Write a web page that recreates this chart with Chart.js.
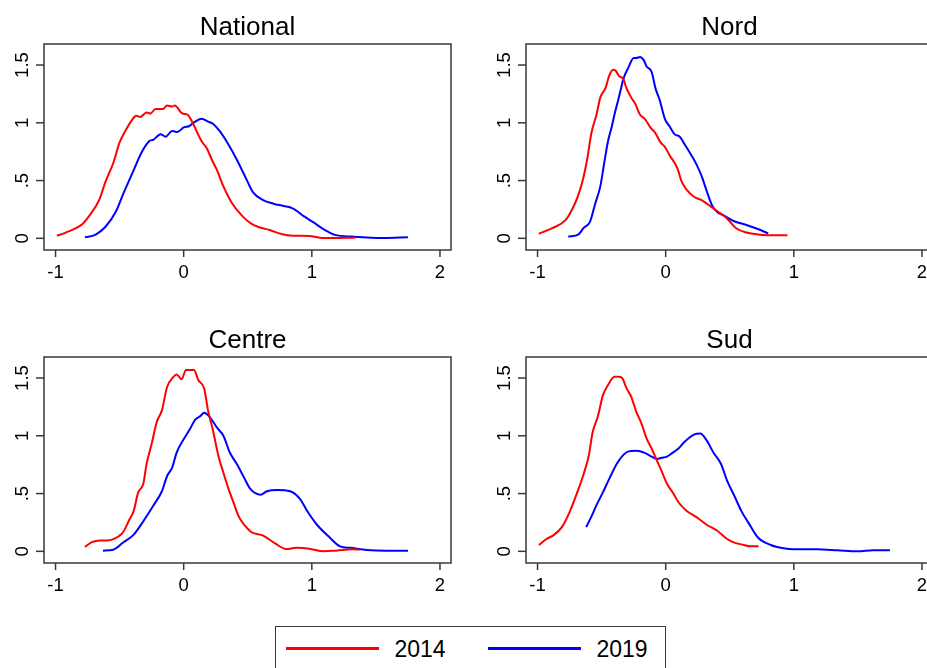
<!DOCTYPE html>
<html>
<head>
<meta charset="utf-8">
<title>Densités 2014 / 2019</title>
<script src="https://cdn.jsdelivr.net/npm/chart.js@4.4.1/dist/chart.umd.min.js"></script>
<style>
  html, body { margin: 0; padding: 0; background: #fff; overflow: hidden; width: 927px; height: 668px; }
  .panel { position: absolute; width: 482px; height: 313px; }
  .panel canvas { display: block; }
  #legend { position: absolute; left: 275px; top: 626px; width: 391px; height: 60px;
            border: 1.5px solid #383838; box-sizing: border-box; background: #fff; }
  #legend .key { position: absolute; top: 20.25px; width: 93px; height: 2.5px; }
  #legend .lab { position: absolute; top: 11.3px; font: 23px/23px "Liberation Sans", Arial, sans-serif;
                 color: #000; white-space: nowrap; }
</style>
</head>
<body>
<div class="panel" style="left:0;top:0"><canvas id="c0" width="482" height="313"></canvas></div>
<div class="panel" style="left:482px;top:0"><canvas id="c1" width="482" height="313"></canvas></div>
<div class="panel" style="left:0;top:313px"><canvas id="c2" width="482" height="313"></canvas></div>
<div class="panel" style="left:482px;top:313px"><canvas id="c3" width="482" height="313"></canvas></div>
<div id="legend"></div>
<script>
// Kernel density estimates, read as (x, density) pairs
const NATIONAL_2014_X = [-0.99,-0.92,-0.79,-0.74,-0.66,-0.61,-0.55,-0.50,-0.45,-0.40,-0.37,-0.34,-0.29,-0.26,-0.22,-0.16,-0.13,-0.09,-0.07,-0.01,0.03,0.065,0.10,0.14,0.18,0.22,0.26,0.31,0.38,0.46,0.53,0.59,0.67,0.77,0.85,0.98,1.06,1.17,1.34];
const NATIONAL_2014_Y = [0.023,0.05,0.125,0.19,0.33,0.49,0.65,0.83,0.94,1.03,1.06,1.05,1.09,1.08,1.12,1.12,1.15,1.14,1.15,1.08,1.07,1.01,0.93,0.84,0.78,0.68,0.59,0.45,0.30,0.19,0.125,0.096,0.072,0.035,0.023,0.02,0.006,0.003,0.006];
const NATIONAL_2019_X = [-0.77,-0.69,-0.61,-0.53,-0.47,-0.39,-0.33,-0.27,-0.235,-0.18,-0.14,-0.09,-0.05,0.0,0.04,0.09,0.14,0.19,0.23,0.28,0.34,0.42,0.49,0.54,0.62,0.70,0.78,0.85,0.94,1.01,1.09,1.18,1.32,1.56,1.75];
const NATIONAL_2019_Y = [0.009,0.03,0.10,0.23,0.39,0.59,0.74,0.84,0.855,0.90,0.88,0.93,0.92,0.96,0.97,1.01,1.035,1.01,0.99,0.93,0.83,0.67,0.51,0.40,0.33,0.30,0.28,0.26,0.19,0.14,0.08,0.03,0.015,0.003,0.009];

const NORD_2014_X = [-0.99,-0.88,-0.78,-0.73,-0.69,-0.65,-0.61,-0.58,-0.54,-0.51,-0.47,-0.44,-0.41,-0.39,-0.36,-0.33,-0.31,-0.27,-0.24,-0.20,-0.16,-0.12,-0.08,-0.04,-0.005,0.03,0.09,0.125,0.165,0.22,0.29,0.37,0.48,0.55,0.63,0.74,0.84,0.95];
const NORD_2014_Y = [0.04,0.09,0.16,0.25,0.35,0.49,0.70,0.91,1.07,1.22,1.30,1.41,1.46,1.45,1.40,1.38,1.31,1.22,1.17,1.07,1.03,0.96,0.91,0.83,0.79,0.72,0.61,0.49,0.42,0.36,0.325,0.26,0.17,0.087,0.05,0.032,0.026,0.026];
const NORD_2019_X = [-0.76,-0.68,-0.64,-0.59,-0.55,-0.51,-0.48,-0.45,-0.42,-0.40,-0.37,-0.35,-0.33,-0.29,-0.25,-0.23,-0.20,-0.17,-0.15,-0.11,-0.08,-0.045,-0.005,0.03,0.07,0.11,0.15,0.20,0.24,0.28,0.32,0.36,0.40,0.45,0.53,0.63,0.74,0.80];
const NORD_2019_Y = [0.015,0.035,0.09,0.145,0.30,0.45,0.65,0.84,0.97,1.07,1.20,1.29,1.38,1.48,1.56,1.56,1.57,1.54,1.49,1.44,1.30,1.19,1.03,0.97,0.90,0.88,0.81,0.72,0.64,0.54,0.41,0.29,0.23,0.20,0.15,0.116,0.072,0.043];

const CENTRE_2014_X = [-0.77,-0.72,-0.65,-0.60,-0.54,-0.485,-0.46,-0.43,-0.39,-0.355,-0.315,-0.29,-0.25,-0.21,-0.17,-0.13,-0.08,-0.055,-0.016,0.018,0.05,0.08,0.115,0.16,0.19,0.23,0.27,0.31,0.35,0.39,0.43,0.48,0.53,0.62,0.72,0.80,0.88,0.98,1.09,1.19,1.32,1.37];
const CENTRE_2014_Y = [0.038,0.078,0.093,0.093,0.11,0.15,0.19,0.26,0.35,0.51,0.585,0.755,0.93,1.12,1.22,1.42,1.51,1.53,1.49,1.57,1.57,1.57,1.48,1.41,1.22,1.04,0.83,0.68,0.54,0.42,0.30,0.22,0.165,0.136,0.064,0.02,0.03,0.023,0.0,0.006,0.017,0.014];
const CENTRE_2019_X = [-0.63,-0.55,-0.47,-0.39,-0.315,-0.24,-0.17,-0.13,-0.09,-0.055,0.0,0.05,0.09,0.13,0.16,0.205,0.26,0.31,0.36,0.415,0.47,0.52,0.60,0.65,0.73,0.83,0.91,0.96,1.04,1.13,1.22,1.30,1.43,1.58,1.75];
const CENTRE_2019_Y = [0.006,0.014,0.078,0.145,0.26,0.39,0.52,0.65,0.725,0.855,0.97,1.06,1.14,1.17,1.20,1.16,1.07,1.0,0.855,0.755,0.64,0.54,0.49,0.52,0.53,0.52,0.45,0.355,0.23,0.13,0.043,0.03,0.012,0.006,0.006];

const SUD_2014_X = [-0.99,-0.93,-0.88,-0.81,-0.75,-0.68,-0.64,-0.60,-0.57,-0.53,-0.49,-0.45,-0.40,-0.37,-0.34,-0.305,-0.27,-0.23,-0.19,-0.15,-0.11,-0.07,-0.03,0.01,0.06,0.10,0.16,0.24,0.32,0.40,0.48,0.53,0.61,0.66,0.725];
const SUD_2014_Y = [0.055,0.107,0.136,0.21,0.34,0.54,0.67,0.83,1.03,1.165,1.35,1.44,1.51,1.51,1.50,1.41,1.34,1.21,1.11,0.98,0.89,0.79,0.69,0.585,0.50,0.425,0.354,0.296,0.23,0.18,0.107,0.078,0.055,0.043,0.043];
const SUD_2019_X = [-0.62,-0.58,-0.54,-0.49,-0.435,-0.38,-0.33,-0.29,-0.23,-0.16,-0.11,-0.07,-0.03,0.01,0.05,0.10,0.14,0.22,0.27,0.32,0.37,0.43,0.48,0.54,0.59,0.65,0.72,0.82,0.92,1.0,1.18,1.34,1.50,1.62,1.75];
const SUD_2019_Y = [0.21,0.30,0.40,0.51,0.64,0.76,0.835,0.865,0.87,0.85,0.82,0.80,0.81,0.82,0.85,0.89,0.94,1.01,1.02,0.96,0.86,0.76,0.61,0.47,0.35,0.24,0.12,0.055,0.026,0.017,0.017,0.009,0.0,0.009,0.009];

const PANEL_TITLES = ['National', 'Nord', 'Centre', 'Sud'];
const SERIES_LABELS = ['2014', '2019'];
const SERIES_COLORS = ['#ff0000', '#0000ff'];
const X_TICKS = [-1, 0, 1, 2];
const X_TICK_LABELS = ['-1', '0', '1', '2'];
const Y_TICKS = [0, 0.5, 1, 1.5];
const Y_TICK_LABELS = ['0', '.5', '1', '1.5'];

const PANEL_SERIES = [
  [[NATIONAL_2014_X, NATIONAL_2014_Y], [NATIONAL_2019_X, NATIONAL_2019_Y]],
  [[NORD_2014_X, NORD_2014_Y], [NORD_2019_X, NORD_2019_Y]],
  [[CENTRE_2014_X, CENTRE_2014_Y], [CENTRE_2019_X, CENTRE_2019_Y]],
  [[SUD_2014_X, SUD_2014_Y], [SUD_2019_X, SUD_2019_Y]]
];

const FONT = '"Liberation Sans", Arial, sans-serif';

// Plot frame, outward ticks, tick labels and panel title
const framePlugin = {
  id: 'frame',
  afterDatasetsDraw(chart, args, opts) {
    const { ctx, chartArea: a, scales: { x, y } } = chart;
    ctx.save();
    ctx.strokeStyle = '#383838';
    ctx.lineWidth = 1.5;
    ctx.strokeRect(a.left, a.top, a.right - a.left, a.bottom - a.top);
    ctx.fillStyle = '#000';
    ctx.font = '18.5px ' + FONT;
    ctx.textAlign = 'center';
    ctx.textBaseline = 'alphabetic';
    X_TICKS.forEach((v, i) => {
      const px = x.getPixelForValue(v);
      ctx.beginPath();
      ctx.moveTo(px, a.bottom);
      ctx.lineTo(px, a.bottom + 7);
      ctx.stroke();
      ctx.fillText(X_TICK_LABELS[i], px, a.bottom + 28);
    });
    Y_TICKS.forEach((v, i) => {
      const py = y.getPixelForValue(v);
      ctx.beginPath();
      ctx.moveTo(a.left, py);
      ctx.lineTo(a.left - 8, py);
      ctx.stroke();
      ctx.save();
      ctx.translate(a.left - 16, py);
      ctx.rotate(-Math.PI / 2);
      ctx.fillText(Y_TICK_LABELS[i], 0, 0);
      ctx.restore();
    });
    ctx.font = '26px ' + FONT;
    ctx.fillText(opts.title, (a.left + a.right) / 2, 35);
    ctx.restore();
  }
};

PANEL_SERIES.forEach((series, p) => {
  const datasets = series.map(([xs, ys], s) => ({
    label: SERIES_LABELS[s],
    data: xs.map((xv, k) => ({ x: xv, y: ys[k] })),
    borderColor: SERIES_COLORS[s],
    borderWidth: 2,
    pointRadius: 0,
    fill: false,
    cubicInterpolationMode: 'monotone'
  }));
  new Chart(document.getElementById('c' + p), {
    type: 'line',
    data: { datasets },
    options: {
      responsive: false,
      animation: false,
      layout: { padding: { left: 44, right: 31, top: 44, bottom: 63 } },
      scales: {
        x: { type: 'linear', min: -1.09, max: 2.086, display: false },
        y: { type: 'linear', min: -0.101, max: 1.682, display: false }
      },
      plugins: {
        legend: { display: false },
        tooltip: { enabled: false },
        frame: { title: PANEL_TITLES[p] }
      }
    },
    plugins: [framePlugin]
  });
});

// Shared legend below the panels
const legend = document.getElementById('legend');
const KEY_LEFT = [9.5, 211.5];
const LAB_LEFT = [118.5, 320.5];
SERIES_LABELS.forEach((lab, s) => {
  const key = document.createElement('span');
  key.className = 'key';
  key.style.left = KEY_LEFT[s] + 'px';
  key.style.background = SERIES_COLORS[s];
  legend.appendChild(key);
  const t = document.createElement('span');
  t.className = 'lab';
  t.style.left = LAB_LEFT[s] + 'px';
  t.textContent = lab;
  legend.appendChild(t);
});
</script>
</body>
</html>
